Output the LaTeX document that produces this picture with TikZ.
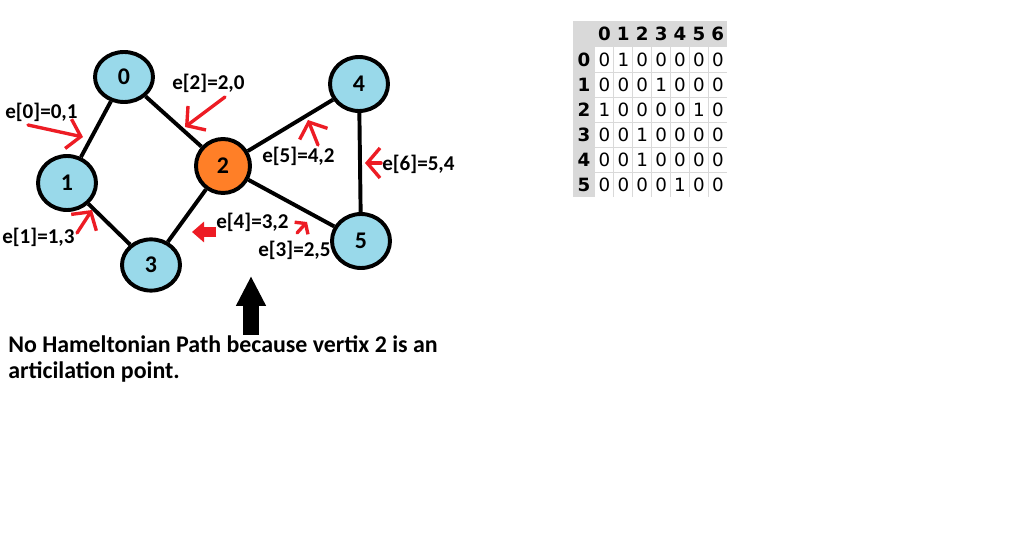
\documentclass[tikz,border=0pt]{standalone}
\usepackage{fontspec}
\setmainfont{Carlito}
\newfontfamily\tablefont{DejaVu Sans}
\usetikzlibrary{shapes.geometric,arrows.meta}
\definecolor{nodeblue}{RGB}{153,217,234}
\definecolor{nodeorange}{RGB}{255,127,39}
\definecolor{paintred}{RGB}{237,28,36}
\begin{document}
\begin{tikzpicture}[
    every node/.style={align=center, font=\fontsize{15}{17}\selectfont\bfseries},
    vertex/.style={ellipse, draw, line width=2.8pt, fill=nodeblue, minimum width=1.45cm, minimum height=1.35cm, inner sep=0pt, font=\fontsize{17}{19}\selectfont\bfseries},
    thick line/.style={draw, line width=2.8pt},
    red arrow/.style={draw=paintred, line width=2.4pt, line cap=round, -{Straight Barb[length=3.2mm,width=7.5mm]}},
    small red arrow/.style={draw=paintred, line width=2.4pt, line cap=round, -{Straight Barb[length=1.6mm,width=4.5mm]}},
    edge label/.style={anchor=west, inner sep=0pt},
    cell/.style={font=\tablefont\fontsize{13}{15}\selectfont, inner sep=0pt},
    head cell/.style={font=\tablefont\fontsize{13}{15}\selectfont\bfseries, inner sep=0pt},
    ]
\useasboundingbox[fill=white] (0,0) rectangle (25.3,-13.925);
% graph
\node[vertex, minimum height=1.25cm] (n0) at (3.100000,-1.925000) {0};
\node[vertex] (n1) at (1.675000,-4.575000) {1};
\node[vertex, fill=nodeorange, minimum width=1.35cm, minimum height=1.35cm] (n2) at (5.575000,-4.150000) {2};
\node[vertex, minimum height=1.28cm] (n3) at (3.775000,-6.625000) {3};
\node[vertex] (n4) at (8.975000,-2.100000) {4};
\node[vertex] (n5) at (9.025000,-6.025000) {5};
\draw[thick line] (n0) -- (n1);
\draw[thick line] (n1) -- (n3);
\draw[thick line] (n0) -- (n2);
\draw[thick line] (n3) -- (n2);
\draw[thick line] (n2) -- (n4);
\draw[thick line] (n2) -- (n5);
\draw[thick line] (n5) -- (n4);
% edge labels
\node[edge label] (e0) at (0.125000,-2.800000) {e[0]=0,1};
\node[edge label] (e1) at (0.050000,-5.925000) {e[1]=1,3};
\node[edge label] (e2) at (4.300000,-2.075000) {e[2]=2,0};
\node[edge label] (e3) at (6.450000,-6.250000) {e[3]=2,5};
\node[edge label] (e4) at (5.400000,-5.550000) {e[4]=3,2};
\node[edge label] (e5) at (6.550000,-3.900000) {e[5]=4,2};
\node[edge label] (e6) at (9.550000,-4.100000) {e[6]=5,4};
% red arrows
\coordinate (a0tail) at (0.700000,-3.125000);
\coordinate (a0tip) at (2.075000,-3.425000);
\coordinate (a1tail) at (1.925000,-5.825000);
\coordinate (a1tip) at (2.300000,-5.250000);
\coordinate (a2tail) at (5.625000,-2.425000);
\coordinate (a2tip) at (4.625000,-3.175000);
\coordinate (a3tail) at (7.425000,-5.825000);
\coordinate (a3tip) at (7.675000,-5.550000);
\coordinate (a4tail) at (5.400000,-5.800000);
\coordinate (a4tip) at (4.800000,-5.800000);
\coordinate (a5tail) at (7.950000,-3.625000);
\coordinate (a5tip) at (7.700000,-3.000000);
\coordinate (a6tail) at (9.525000,-4.075000);
\coordinate (a6tip) at (9.125000,-4.075000);
\draw[red arrow] (a0tail) -- (a0tip);
\draw[red arrow] (a1tail) -- (a1tip);
\draw[red arrow] (a2tail) -- (a2tip);
\draw[small red arrow] (a3tail) -- (a3tip);
\draw[paintred, line width=0.25cm, -{Triangle[length=0.3cm,width=0.5cm]}] (a4tail) -- (a4tip);
\draw[red arrow] (a5tail) -- (a5tip);
\draw[red arrow] (a6tail) -- (a6tip);
% black arrow and note
\coordinate (uptail) at (6.275000,-8.375000);
\coordinate (uptip) at (6.275000,-6.900000);
\draw[line width=0.4cm, -{Triangle[length=0.75cm,width=0.7cm]}] (uptail) -- (uptip);
\node[anchor=base west, align=left, inner sep=0pt, font=\fontsize{17}{19.2}\selectfont\bfseries] (note) at (0.200000,-9.475000)
    {No Hameltonian Path because vertix 2 is an\\articilation point.};
% table
\fill[gray!30] (14.325000,-0.525000) rectangle (18.182500,-4.925000);
\fill[white] (14.875000,-1.175000) rectangle (18.182500,-4.925000);
\foreach \i in {1,...,6}
    \draw[gray!30, line width=0.7pt] ({14.875+0.4725*\i},-1.175) -- ({14.875+0.4725*\i},-4.925);
\foreach \j in {1,...,5}
    \draw[gray!30, line width=0.7pt] (14.875,{-1.175-0.625*\j}) -- (18.1825,{-1.175-0.625*\j});
\foreach \c in {0,...,6}
    \node[head cell] (h\c) at ({14.875+0.4725*(\c+0.5)},-0.850000) {\c};
\foreach \r/\row in {0/{0,1,0,0,0,0,0}, 1/{0,0,0,1,0,0,0}, 2/{1,0,0,0,0,1,0},
                     3/{0,0,1,0,0,0,0}, 4/{0,0,1,0,0,0,0}, 5/{0,0,0,0,1,0,0}} {
    \node[head cell] (r\r) at (14.600000,{-1.175-0.625*(\r+0.5)}) {\r};
    \foreach \v [count=\c from 0] in \row
        \node[cell] (c\r\c) at ({14.875+0.4725*(\c+0.5)},{-1.175-0.625*(\r+0.5)}) {\v};
}
\end{tikzpicture}
\end{document}
